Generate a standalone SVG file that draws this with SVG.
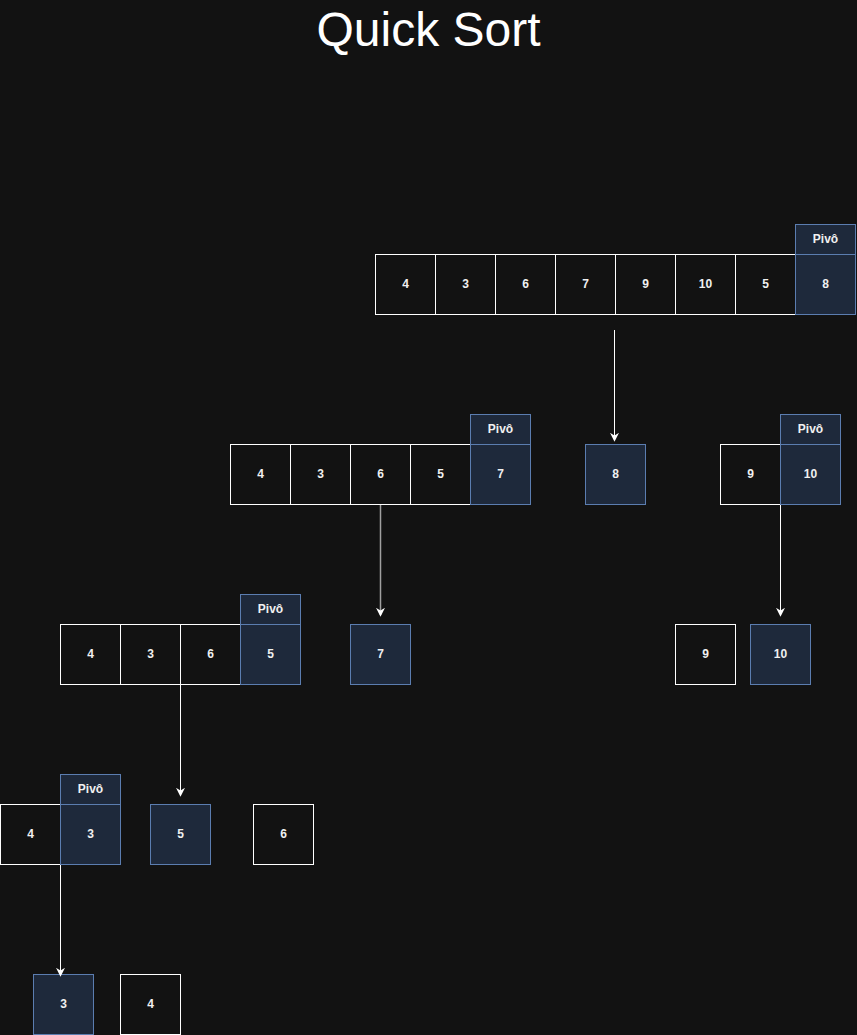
<svg xmlns="http://www.w3.org/2000/svg" width="857" height="1035" viewBox="0 0 857 1035">
<defs>
<style>
.c{fill:#121212;stroke:#ffffff;stroke-width:1}
.p{fill:#1e293b;stroke:#5b7db0;stroke-width:1}
.t{font-family:"Liberation Sans",Arial,sans-serif;font-size:12px;font-weight:bold;fill:#f0f0f0;text-anchor:middle;dominant-baseline:central}
.e{fill:none;stroke:#ffffff;stroke-width:1}
</style>
<marker id="ah" viewBox="0 0 10 10" refX="8" refY="5" markerWidth="9" markerHeight="9" markerUnits="userSpaceOnUse" orient="auto">
<path d="M0,0 L10,5 L0,10 L3,5 Z" fill="#ffffff"/>
</marker>
</defs>
<rect x="0" y="0" width="857" height="1035" fill="#121212"/>
<text x="428.5" y="46" font-family="'Liberation Sans',Arial,sans-serif" font-size="48" fill="#ffffff" text-anchor="middle">Quick Sort</text>

<g id="row1">
<rect class="c" x="375.5" y="254.5" width="60" height="60"/><text class="t" x="405.5" y="283.5">4</text>
<rect class="c" x="435.5" y="254.5" width="60" height="60"/><text class="t" x="465.5" y="283.5">3</text>
<rect class="c" x="495.5" y="254.5" width="60" height="60"/><text class="t" x="525.5" y="283.5">6</text>
<rect class="c" x="555.5" y="254.5" width="60" height="60"/><text class="t" x="585.5" y="283.5">7</text>
<rect class="c" x="615.5" y="254.5" width="60" height="60"/><text class="t" x="645.5" y="283.5">9</text>
<rect class="c" x="675.5" y="254.5" width="60" height="60"/><text class="t" x="705.5" y="283.5">10</text>
<rect class="c" x="735.5" y="254.5" width="60" height="60"/><text class="t" x="765.5" y="283.5">5</text>
<rect class="p" x="795.5" y="254.5" width="60" height="60"/><text class="t" x="825.5" y="283.5">8</text>
<rect class="p" x="795.5" y="224.5" width="60" height="30"/><text class="t" x="825.5" y="238.5">Pivô</text>
</g>

<g id="row2a">
<rect class="c" x="230.5" y="444.5" width="60" height="60"/><text class="t" x="260.5" y="473.5">4</text>
<rect class="c" x="290.5" y="444.5" width="60" height="60"/><text class="t" x="320.5" y="473.5">3</text>
<rect class="c" x="350.5" y="444.5" width="60" height="60"/><text class="t" x="380.5" y="473.5">6</text>
<rect class="c" x="410.5" y="444.5" width="60" height="60"/><text class="t" x="440.5" y="473.5">5</text>
<rect class="p" x="470.5" y="444.5" width="60" height="60"/><text class="t" x="500.5" y="473.5">7</text>
<rect class="p" x="470.5" y="414.5" width="60" height="30"/><text class="t" x="500.5" y="428.5">Pivô</text>
</g>
<g id="n8">
<rect class="p" x="585.5" y="444.5" width="60" height="60"/><text class="t" x="615.5" y="473.5">8</text>
</g>
<g id="row2b">
<rect class="c" x="720.5" y="444.5" width="60" height="60"/><text class="t" x="750.5" y="473.5">9</text>
<rect class="p" x="780.5" y="444.5" width="60" height="60"/><text class="t" x="810.5" y="473.5">10</text>
<rect class="p" x="780.5" y="414.5" width="60" height="30"/><text class="t" x="810.5" y="428.5">Pivô</text>
</g>

<g id="row3a">
<rect class="c" x="60.5" y="624.5" width="60" height="60"/><text class="t" x="90.5" y="653.5">4</text>
<rect class="c" x="120.5" y="624.5" width="60" height="60"/><text class="t" x="150.5" y="653.5">3</text>
<rect class="c" x="180.5" y="624.5" width="60" height="60"/><text class="t" x="210.5" y="653.5">6</text>
<rect class="p" x="240.5" y="624.5" width="60" height="60"/><text class="t" x="270.5" y="653.5">5</text>
<rect class="p" x="240.5" y="594.5" width="60" height="30"/><text class="t" x="270.5" y="608.5">Pivô</text>
</g>
<g id="n7">
<rect class="p" x="350.5" y="624.5" width="60" height="60"/><text class="t" x="380.5" y="653.5">7</text>
</g>
<g id="n9">
<rect class="c" x="675.5" y="624.5" width="60" height="60"/><text class="t" x="705.5" y="653.5">9</text>
</g>
<g id="n10">
<rect class="p" x="750.5" y="624.5" width="60" height="60"/><text class="t" x="780.5" y="653.5">10</text>
</g>

<g id="row4a">
<rect class="c" x="0.5" y="804.5" width="60" height="60"/><text class="t" x="30.5" y="833.5">4</text>
<rect class="p" x="60.5" y="804.5" width="60" height="60"/><text class="t" x="90.5" y="833.5">3</text>
<rect class="p" x="60.5" y="774.5" width="60" height="30"/><text class="t" x="90.5" y="788.5">Pivô</text>
</g>
<g id="n5">
<rect class="p" x="150.5" y="804.5" width="60" height="60"/><text class="t" x="180.5" y="833.5">5</text>
</g>
<g id="n6">
<rect class="c" x="253.5" y="804.5" width="60" height="60"/><text class="t" x="283.5" y="833.5">6</text>
</g>

<g id="n3">
<rect class="p" x="33.5" y="974.5" width="60" height="60"/><text class="t" x="63.5" y="1003.5">3</text>
</g>
<g id="n4">
<rect class="c" x="120.5" y="974.5" width="60" height="60"/><text class="t" x="150.5" y="1003.5">4</text>
</g>

<g id="connectors">
<path class="e" d="M614.5,330 L614.5,440" marker-end="url(#ah)"/>
<path class="e" d="M380.5,505 L380.5,615" style="stroke:#a0a0a0;stroke-width:1.5" marker-end="url(#ah)"/>
<path class="e" d="M780.5,505 L780.5,615" marker-end="url(#ah)"/>
<path class="e" d="M180.5,685 L180.5,795" marker-end="url(#ah)"/>
<path class="e" d="M60.5,865 L60.5,975" marker-end="url(#ah)"/>
</g>
</svg>
